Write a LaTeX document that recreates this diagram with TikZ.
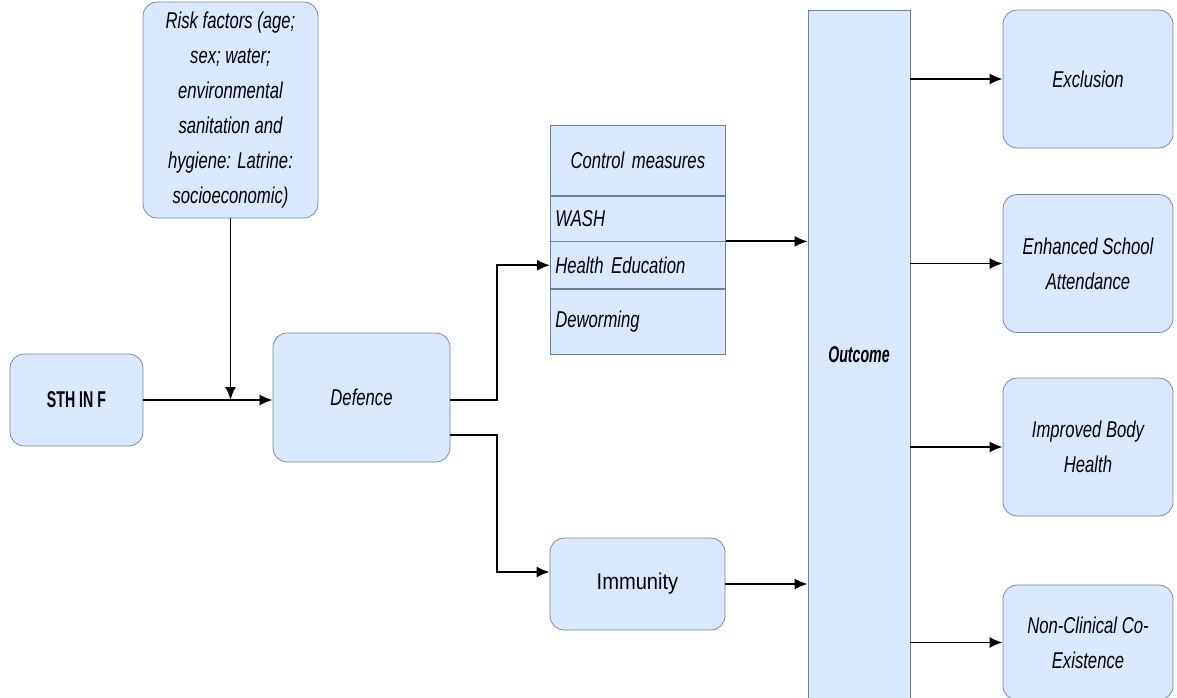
\documentclass[tikz,border=0pt]{standalone}
\usepackage{fontspec}
\setmainfont[FakeStretch=0.73]{Liberation Sans}
\newfontfamily\narrowfont[FakeStretch=0.62]{Liberation Sans}
\newfontfamily\plainfont[FakeStretch=0.88]{Liberation Sans}
\usetikzlibrary{arrows.meta,calc,positioning}
\definecolor{BoxBlue}{RGB}{218,232,252}
\definecolor{EdgeBlue}{RGB}{110,130,160}
\newcommand{\boxfont}{\fontsize{13}{20}\selectfont}

\begin{document}
\begin{tikzpicture}[x=0.02cm,y=-0.02cm,
  box/.style={draw=EdgeBlue,fill=BoxBlue,rounded corners=8pt,align=center,font=\boxfont\itshape,inner sep=2pt},
  row/.style={draw=EdgeBlue,fill=BoxBlue,text width=3.3cm,inner xsep=0.1cm,inner ysep=0pt,align=left,font=\boxfont\itshape},
  arr/.style={-{Latex[length=2.6mm,width=2.2mm]},line width=1.1pt}]
\useasboundingbox (0,0) rectangle (1177,697);
% left part
\node[box,minimum width=3.5cm,minimum height=4.32cm] (risk) at (230.5,110) {Risk factors (age;\\ sex; water;\\ environmental\\ sanitation and\\ hygiene: Latrine:\\ socioeconomic)};
\node[box,minimum width=2.66cm,minimum height=1.84cm,font=\fontsize{13}{15}\narrowfont\bfseries] (sth) at (76.5,400) {STH IN F};
\node[box,minimum width=3.54cm,minimum height=2.58cm] (def) at (361.5,397.5) {Defence};
% control measures table
\node[row,align=center,minimum height=1.4cm,anchor=north west] (ctrl) at (550,125) {Control measures};
\node[row,minimum height=0.9cm,below=0pt of ctrl] (wash) {WASH};
\node[row,minimum height=0.94cm,below=0pt of wash] (hedu) {Health Education};
\node[row,minimum height=1.3cm,below=0pt of hedu] (dew) {Deworming};
\node[box,minimum width=3.5cm,minimum height=1.84cm,font=\fontsize{13}{15}\plainfont] (imm) at (637.5,584) {Immunity};
% outcome and results
\node[draw=EdgeBlue,fill=BoxBlue,minimum width=2.04cm,minimum height=13.8cm,font=\fontsize{13}{15}\narrowfont\bfseries\itshape] (out) at (859,355) {Outcome};
\node[box,minimum width=3.4cm,minimum height=2.76cm] (exc) at (1088,79) {Exclusion};
\node[box,minimum width=3.4cm,minimum height=2.76cm] (esa) at (1088,263.5) {Enhanced School\\ Attendance};
\node[box,minimum width=3.4cm,minimum height=2.76cm] (ibh) at (1088,447) {Improved Body\\ Health};
\node[box,minimum width=3.4cm,minimum height=2.3cm] (ncc) at (1088,642.5) {Non-Clinical Co-\\ Existence};
% connectors
\coordinate (fork) at (497,400);
\coordinate (immin) at ([yshift=0.24cm]imm.west);
\draw[arr] (risk) -- (risk |- sth.east);
\draw[arr] (sth.east) -- (sth.east -| def.west);
\draw[arr] (def.east |- fork) -- (fork) |- (hedu.west);
\draw[arr] ([yshift=-0.75cm]def.east) -| (fork |- immin) -- (immin);
\draw[arr] (hedu.north east) -- (hedu.north east -| out.west);
\draw[arr] (imm.east) -- (imm.east -| out.west);
\foreach \b in {exc,esa,ibh,ncc} \draw[arr] (\b.west -| out.east) -- (\b.west);
\end{tikzpicture}
\end{document}
